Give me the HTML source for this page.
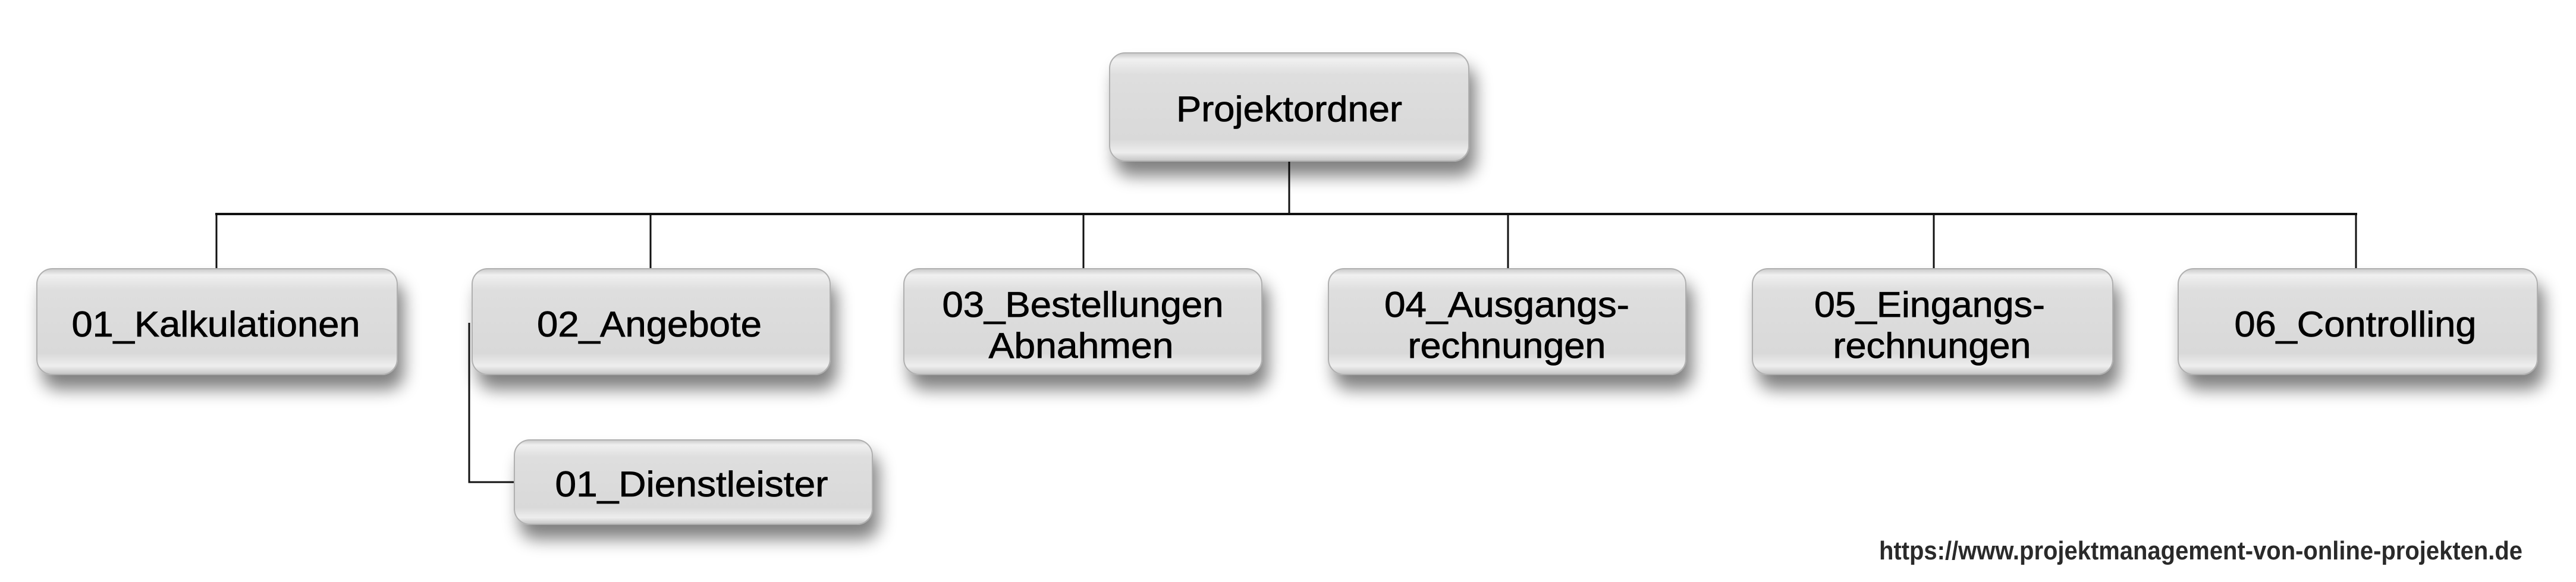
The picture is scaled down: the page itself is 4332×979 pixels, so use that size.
<!DOCTYPE html>
<html><head><meta charset="utf-8"><style>
html,body{margin:0;padding:0;background:#fff;}
svg{display:block;}
text{font-family:"Liberation Sans",Arial,sans-serif;fill:#000;}
</style></head><body>
<svg width="4332" height="979" viewBox="0 0 4332 979" xmlns="http://www.w3.org/2000/svg">
<defs>
<linearGradient id="g" x1="0" y1="0" x2="0" y2="1">
<stop offset="0" stop-color="#c8c8c8"/>
<stop offset="0.06" stop-color="#f0f0f0"/>
<stop offset="0.2" stop-color="#dedede"/>
<stop offset="0.8" stop-color="#d9d9d9"/>
<stop offset="0.92" stop-color="#eeeeee"/>
<stop offset="1" stop-color="#c4c4c4"/>
</linearGradient>
<filter id="s" x="-10%" y="-20%" width="130%" height="170%">
<feGaussianBlur in="SourceAlpha" stdDeviation="14"/>
<feOffset dx="10" dy="24" result="b"/>
<feComponentTransfer><feFuncA type="linear" slope="0.5"/></feComponentTransfer>
<feMerge><feMergeNode/><feMergeNode in="SourceGraphic"/></feMerge>
</filter>
</defs>
<g stroke="#111" fill="none">
<line x1="2168" y1="271" x2="2168" y2="360" stroke-width="3"/>
<line x1="362" y1="360" x2="3964" y2="360" stroke-width="4"/>
<line x1="364" y1="360" x2="364" y2="453" stroke-width="3"/>
<line x1="1094" y1="360" x2="1094" y2="453" stroke-width="3"/>
<line x1="1822" y1="360" x2="1822" y2="453" stroke-width="3"/>
<line x1="2536" y1="360" x2="2536" y2="453" stroke-width="3"/>
<line x1="3252" y1="360" x2="3252" y2="453" stroke-width="3"/>
<line x1="3962" y1="360" x2="3962" y2="453" stroke-width="3"/>
<polyline points="789,543 789,811 866,811" stroke-width="3"/>
</g>
<g fill="url(#g)" stroke="#b0b0b0" stroke-width="2" filter="url(#s)">
<rect x="1866" y="89" width="604" height="182" rx="26"/>
<rect x="62" y="452" width="606" height="178" rx="26"/>
<rect x="794" y="452" width="602" height="178" rx="26"/>
<rect x="1520" y="452" width="602" height="178" rx="26"/>
<rect x="2234" y="452" width="601" height="178" rx="26"/>
<rect x="2947" y="452" width="606" height="178" rx="26"/>
<rect x="3663" y="452" width="604" height="178" rx="26"/>
<rect x="865" y="740" width="602" height="142" rx="26"/>
</g>
<g font-size="60" text-anchor="middle" stroke="#000" stroke-width="0.8">
<text x="2168" y="204" textLength="380" lengthAdjust="spacingAndGlyphs">Projektordner</text>
<text x="363" y="566" textLength="485" lengthAdjust="spacingAndGlyphs">01_Kalkulationen</text>
<text x="1092" y="566" textLength="378" lengthAdjust="spacingAndGlyphs">02_Angebote</text>
<text x="1821" y="533" textLength="473" lengthAdjust="spacingAndGlyphs">03_Bestellungen</text>
<text x="1818" y="602" textLength="311" lengthAdjust="spacingAndGlyphs">Abnahmen</text>
<text x="2534" y="533" textLength="412" lengthAdjust="spacingAndGlyphs">04_Ausgangs-</text>
<text x="2534" y="602" textLength="333" lengthAdjust="spacingAndGlyphs">rechnungen</text>
<text x="3245" y="533" textLength="388" lengthAdjust="spacingAndGlyphs">05_Eingangs-</text>
<text x="3249" y="602" textLength="333" lengthAdjust="spacingAndGlyphs">rechnungen</text>
<text x="3961" y="566" textLength="407" lengthAdjust="spacingAndGlyphs">06_Controlling</text>
<text x="1163" y="835" textLength="459" lengthAdjust="spacingAndGlyphs">01_Dienstleister</text>
</g>
<text x="3160" y="941" font-size="44" font-weight="bold" textLength="1082" lengthAdjust="spacingAndGlyphs" style="fill:#2a2a2a">https://www.projektmanagement-von-online-projekten.de</text>
</svg>
</body></html>
